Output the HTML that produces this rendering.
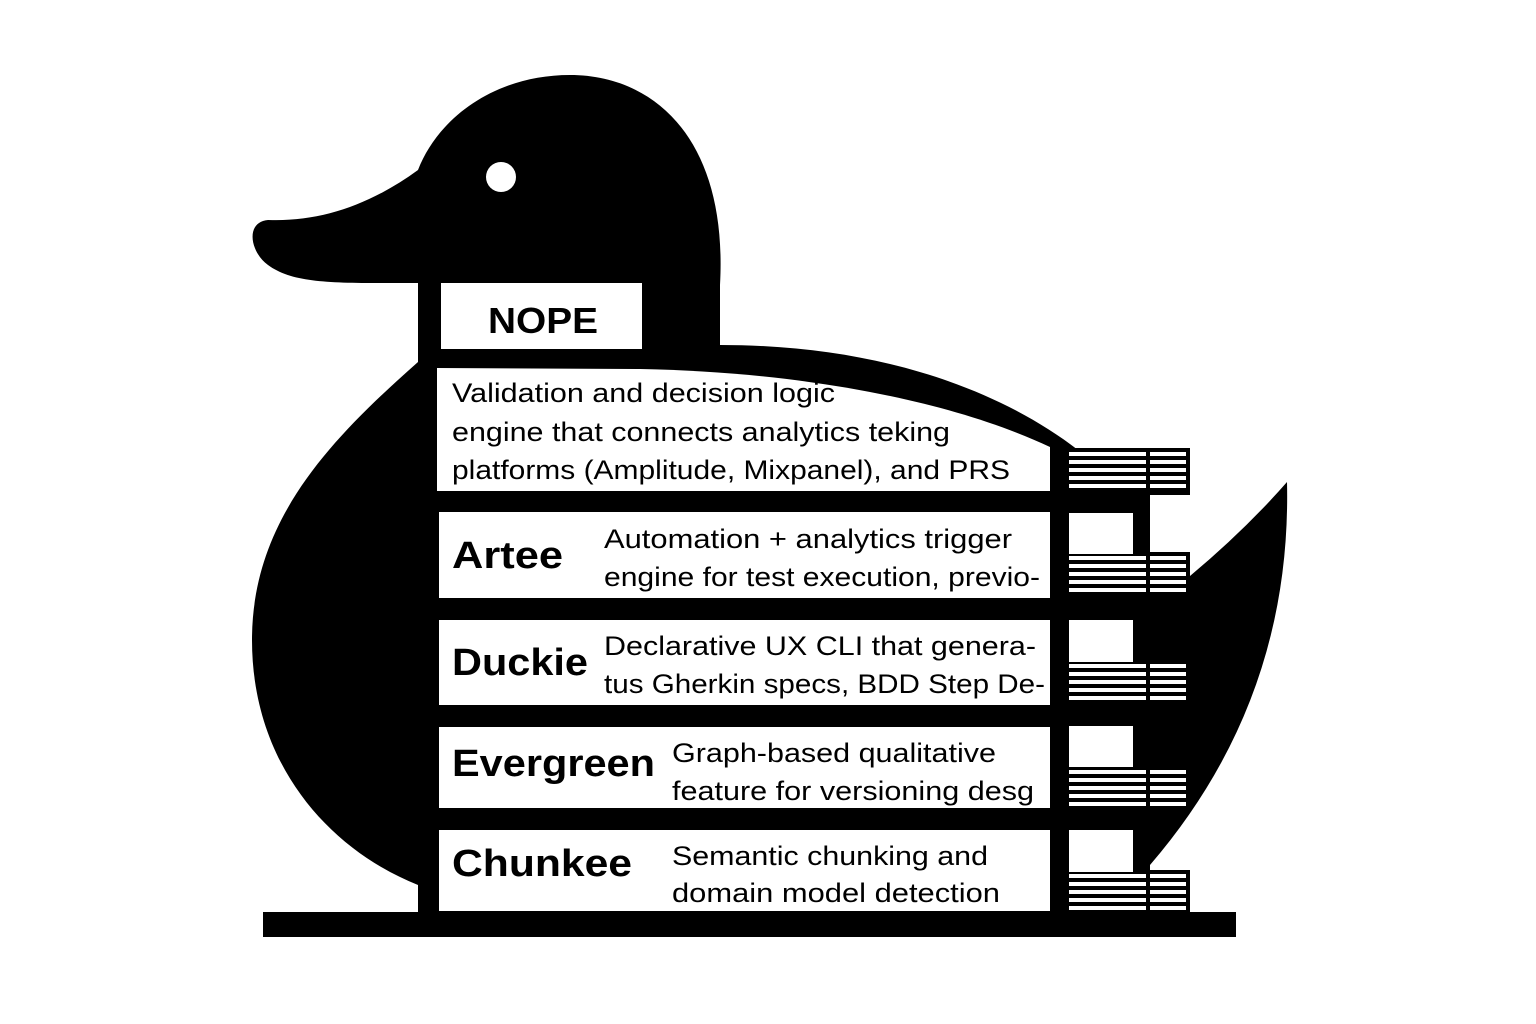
<!DOCTYPE html>
<html><head><meta charset="utf-8"><style>html,body{margin:0;padding:0;background:#fff}svg{display:block}</style></head>
<body>
<svg width="1536" height="1024" viewBox="0 0 1536 1024" xmlns="http://www.w3.org/2000/svg">
<rect width="1536" height="1024" fill="#fff"/>
<!-- tail -->
<path d="M1150,598 L1190,598 L1190,576 Q1245,530 1287,482 Q1292,700 1150,865 Z" fill="#000"/>
<!-- duck body + head -->
<path d="M418,285 L418,362 C330,440 252,520 252,640 C252,765 330,850 418,885 L418,912 L1050,912 L1050,450 L1078,450 C1000,390 880,345 720,345 L720,285 C728,140 655,75 570,75 C495,75 438,118 418,170 C370,205 320,222 268,220 C245,222 250,252 268,265 C295,285 340,283 418,283 Z" fill="#000"/>
<!-- right column -->
<rect x="1050" y="450" width="100" height="462" fill="#000"/>
<rect x="1066" y="448" width="124" height="47" fill="#000"/>
<rect x="1066" y="552" width="124" height="46" fill="#000"/>
<rect x="1066" y="660" width="124" height="46" fill="#000"/>
<rect x="1066" y="767" width="124" height="45" fill="#000"/>
<rect x="1066" y="870" width="124" height="44" fill="#000"/>
<g fill="#fff">
<rect x="1069" y="513" width="64" height="41"/>
<rect x="1069" y="620" width="64" height="42"/>
<rect x="1069" y="726" width="64" height="41"/>
<rect x="1069" y="830" width="64" height="42"/>
</g>
<g fill="#fff" id="st">
<rect x="1069" y="452" width="77" height="4"/><rect x="1150" y="452" width="36" height="4"/>
<rect x="1069" y="460" width="77" height="4"/><rect x="1150" y="460" width="36" height="4"/>
<rect x="1069" y="468" width="77" height="4"/><rect x="1150" y="468" width="36" height="4"/>
<rect x="1069" y="476" width="77" height="4"/><rect x="1150" y="476" width="36" height="4"/>
<rect x="1069" y="484" width="77" height="4"/><rect x="1150" y="484" width="36" height="4"/>
</g>
<use href="#st" y="104"/>
<use href="#st" y="212"/>
<use href="#st" y="318"/>
<use href="#st" y="422"/>
<!-- base -->
<rect x="263" y="912" width="973" height="25" fill="#000"/>
<!-- eye -->
<circle cx="501" cy="177" r="15" fill="#fff"/>
<!-- boxes -->
<rect x="441" y="283" width="201" height="66" fill="#fff"/>
<path d="M437,368 L640,369 C800,372 950,400 1050,447 L1050,491 L437,491 Z" fill="#fff"/>
<rect x="439" y="512" width="611" height="86" fill="#fff"/>
<rect x="439" y="620" width="611" height="85" fill="#fff"/>
<rect x="439" y="727" width="611" height="81" fill="#fff"/>
<rect x="439" y="830" width="611" height="81" fill="#fff"/>
<g font-family="Liberation Sans, sans-serif" fill="#000">
<text x="488" y="333" font-size="36" font-weight="bold" textLength="110" lengthAdjust="spacingAndGlyphs">NOPE</text>
<g font-size="27">
<text x="452" y="402" textLength="383" lengthAdjust="spacingAndGlyphs">Validation and decision logic</text>
<text x="452" y="441" textLength="498" lengthAdjust="spacingAndGlyphs">engine that connects analytics teking</text>
<text x="452" y="479" textLength="558" lengthAdjust="spacingAndGlyphs">platforms (Amplitude, Mixpanel), and PRS</text>
<text x="604" y="548" textLength="408" lengthAdjust="spacingAndGlyphs">Automation + analytics trigger</text>
<text x="604" y="586" textLength="436" lengthAdjust="spacingAndGlyphs">engine for test execution, previo-</text>
<text x="604" y="655" textLength="432" lengthAdjust="spacingAndGlyphs">Declarative UX CLI that genera-</text>
<text x="604" y="693" textLength="441" lengthAdjust="spacingAndGlyphs">tus Gherkin specs, BDD Step De-</text>
<text x="672" y="762" textLength="324" lengthAdjust="spacingAndGlyphs">Graph-based qualitative</text>
<text x="672" y="800" textLength="362" lengthAdjust="spacingAndGlyphs">feature for versioning desg</text>
<text x="672" y="865" textLength="316" lengthAdjust="spacingAndGlyphs">Semantic chunking and</text>
<text x="672" y="902" textLength="328" lengthAdjust="spacingAndGlyphs">domain model detection</text>
</g>
<g font-size="38" font-weight="bold">
<text x="452" y="568" textLength="111" lengthAdjust="spacingAndGlyphs">Artee</text>
<text x="452" y="675" textLength="136" lengthAdjust="spacingAndGlyphs">Duckie</text>
<text x="452" y="776" textLength="203" lengthAdjust="spacingAndGlyphs">Evergreen</text>
<text x="452" y="876" textLength="180" lengthAdjust="spacingAndGlyphs">Chunkee</text>
</g>
</g>
</svg>
</body></html>
